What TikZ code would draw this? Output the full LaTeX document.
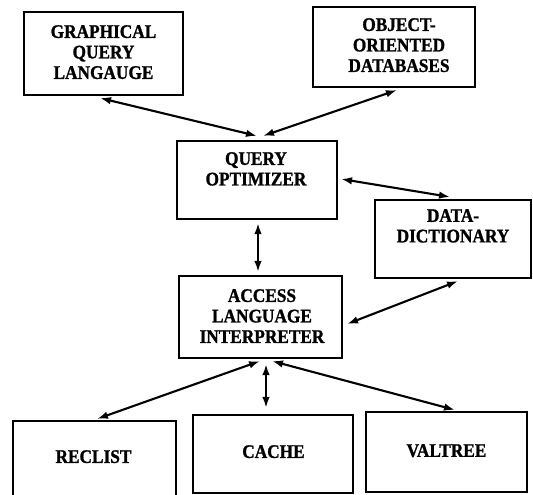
\documentclass[tikz,border=0pt]{standalone}
\usepackage{fontspec}
\setmainfont{Liberation Serif}
\newfontfamily\lblfont[FakeStretch=0.9,FakeBold=1.2]{Liberation Serif Bold}
\usetikzlibrary{arrows.meta}
\begin{document}
\begin{tikzpicture}[x=1pt,y=-1pt,
  box/.style={draw, line width=2.1pt, inner sep=0pt},
  lbl/.style={anchor=north, inner sep=0pt, align=center,
    font=\lblfont\fontsize{19.2}{20.5}\selectfont},
  link/.style={line width=2.1pt, {Latex[length=11pt,width=7.5pt]}-{Latex[length=11pt,width=7.5pt]}}]
\useasboundingbox (0,0) rectangle (533,495);
% boxes
\node[box, minimum width=159pt, minimum height=83pt] (gql) at (103.5,53.5) {};
\node[box, minimum width=162pt, minimum height=80pt] (oo) at (394,47) {};
\node[box, minimum width=160pt, minimum height=78pt] (qo) at (257,180) {};
\node[box, minimum width=156pt, minimum height=78pt] (dd) at (453,239) {};
\node[box, minimum width=163pt, minimum height=82pt] (acc) at (260.5,317) {};
\node[box, minimum width=163pt, minimum height=84pt] (rec) at (94.5,463) {};
\node[box, minimum width=160pt, minimum height=78pt] (cache) at (273,454) {};
\node[box, minimum width=161pt, minimum height=80pt] (val) at (446.5,452) {};
% labels
\node[lbl] (gqlt) at (103.5,25) {GRAPHICAL\\QUERY\\LANGAUGE};
\node[lbl] (oot) at (399,18) {OBJECT-\\ORIENTED\\DATABASES};
\node[lbl] (qot) at (256,152) {QUERY\\OPTIMIZER};
\node[lbl] (ddt) at (453,209) {DATA-\\DICTIONARY};
\node[lbl] (acct) at (262,289) {ACCESS\\LANGUAGE\\INTERPRETER};
\node[lbl] (rect) at (93.5,450) {RECLIST};
\node[lbl] (cachet) at (273.5,445) {CACHE};
\node[lbl] (valt) at (446.5,444) {VALTREE};
% connectors
\draw[link] ([xshift=-3.5pt,yshift=-2pt]gql.south) -- ([yshift=4pt]qo.north);
\draw[link] ([xshift=3pt,yshift=-2pt]oo.south) -- ([xshift=6pt,yshift=4pt]qo.north);
\draw[link] ([xshift=3pt,yshift=1pt]qo.east) -- ([xshift=-3pt,yshift=2pt]dd.north);
\draw[link] ([xshift=1pt,yshift=-3pt]qo.south) -- ([xshift=-2.5pt,yshift=3pt]acc.north);
\draw[link] ([xshift=5pt,yshift=-2pt]dd.south) -- ([xshift=4pt,yshift=-7pt]acc.east);
\draw[link] ([xshift=-0.5pt,yshift=-2pt]acc.south) -- ([xshift=2.5pt,yshift=1pt]rec.north);
\draw[link] ([xshift=5.5pt,yshift=-5pt]acc.south) -- ([xshift=-7pt,yshift=6pt]cache.north);
\draw[link] ([xshift=11.5pt,yshift=-2pt]acc.south) -- ([xshift=8.5pt,yshift=1pt]val.north);
\end{tikzpicture}
\end{document}
